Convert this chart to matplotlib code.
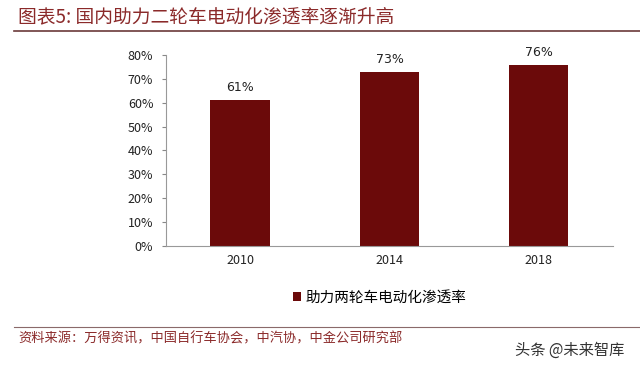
import matplotlib
matplotlib.use("Agg")
import matplotlib.pyplot as plt
from matplotlib.lines import Line2D
from matplotlib.ticker import PercentFormatter

plt.rcParams['font.family'] = ['Noto Sans CJK SC', 'DejaVu Sans']

years = ['2010', '2014', '2018']
rates = [0.61, 0.73, 0.76]
labels = ['61%', '73%', '76%']
yticks = [0, 0.1, 0.2, 0.3, 0.4, 0.5, 0.6, 0.7, 0.8]

bar_color = '#6b0a0a'
red_text = '#8b2a2a'

fig = plt.figure(figsize=(6.4, 3.67), dpi=100)
ax = fig.add_axes([0.259, 0.330, 0.699, 0.520])

x = range(len(years))
ax.bar(x, rates, width=0.4, color=bar_color, label='助力两轮车电动化渗透率')
for xi, r, lab in zip(x, rates, labels):
    ax.text(xi, r + 0.025, lab, ha='center', va='bottom', fontsize=9, color='#222222',
            family=['DejaVu Sans'])

ax.set_xlim(-0.5, 2.5)
ax.set_ylim(0, 0.8)
ax.set_yticks(yticks)
ax.yaxis.set_major_formatter(PercentFormatter(1.0, decimals=0))
ax.set_xticks(list(x))
ax.set_xticklabels(years)
ax.tick_params(axis='both', labelsize=9, colors='#222222', length=0, pad=6)
ax.tick_params(axis='y', which='both', length=3, direction='out', color='#888888')
for s in ['top', 'right']:
    ax.spines[s].set_visible(False)
ax.spines['left'].set_color('#999999')
ax.spines['bottom'].set_color('#999999')

ax.legend(loc='upper center', bbox_to_anchor=(0.478, -0.165), frameon=False,
          fontsize=10.5, handlelength=0.6, handleheight=0.6, handletextpad=0.3)

# title and rules
fig.text(0.028, 0.953, '图表5: 国内助力二轮车电动化渗透率逐渐升高', fontsize=13.5,
         color=red_text, ha='left', va='center', style='italic')
fig.add_artist(Line2D([0.022, 1.0], [0.915, 0.915], color='#6b3a3a', lw=1.2))
fig.add_artist(Line2D([0.022, 1.0], [0.109, 0.109], color='#8a6a6a', lw=0.8))
fig.text(0.028, 0.078, '资料来源：万得资讯，中国自行车协会，中汽协，中金公司研究部', fontsize=9.5,
         color=red_text, ha='left', va='center', style='italic')
fig.text(0.805, 0.046, '头条 @未来智库', fontsize=11, color='#333333', ha='left', va='center')

fig.savefig('out.png', dpi=100)
